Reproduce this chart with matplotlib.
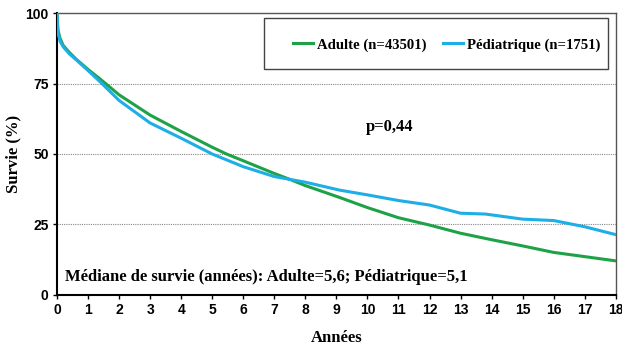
import numpy as np
import matplotlib.pyplot as plt
from matplotlib.patches import Rectangle

# courbes de survie
annees_adulte = [0, 0.03, 0.1, 0.2, 0.4, 0.63, 1.0, 1.4, 2.0, 3.0, 4.0, 5.0, 5.46, 6.0, 7.0, 7.5,
                 8.0, 9.1, 10.0, 11.0, 12.0, 13.0, 14.0, 15.0, 16.0, 17.0, 18.0]
survie_adulte = [100, 94, 91, 88.5, 86, 83.5, 80, 76.5, 71, 63.8, 58, 52.4, 50, 47.6, 43.1, 41,
                 38.8, 34.6, 31, 27.4, 24.8, 21.9, 19.6, 17.4, 15.1, 13.6, 12.1]

annees_pedia = [0, 0.03, 0.1, 0.2, 0.4, 0.63, 1.0, 1.4, 2.0, 3.0, 4.0, 5.0, 6.0, 7.0, 7.5, 8.0,
                9.1, 10.0, 11.0, 12.0, 13.0, 13.8, 15.0, 16.0, 17.0, 18.0]
survie_pedia = [100, 93, 90, 88, 85.5, 83.3, 79.6, 75.5, 69, 61, 55.6, 50, 45.5, 42, 41, 40,
                37.2, 35.5, 33.5, 31.9, 29, 28.7, 26.9, 26.4, 24.2, 21.4]

yticks = [0, 25, 50, 75, 100]
xticks = list(range(0, 19))

fig = plt.figure(figsize=(6.22, 3.47), dpi=100)
ax = fig.add_axes([0.0916, 0.1499, 0.8984, 0.8126])

vert = '#1ea247'
bleu = '#1eaee6'
l1, = ax.plot(annees_adulte, survie_adulte, color=vert, lw=2.2, label='Adulte (n=43501)', zorder=3)
l2, = ax.plot(annees_pedia, survie_pedia, color=bleu, lw=2.2, label='Pédiatrique (n=1751)', zorder=3)

ax.set_xlim(0, 18)
ax.set_ylim(0, 100)
ax.set_xticks(xticks)
ax.set_yticks(yticks)
for y in [25, 50, 75]:
    ax.axhline(y, color='#888888', lw=0.8, ls=(0, (1, 1)), zorder=1)

tick_font = dict(family='Liberation Sans', weight='bold', size=10)
ax.set_xticklabels([str(t) for t in xticks], **tick_font)
ax.set_yticklabels([str(t) for t in yticks], **tick_font)
ax.tick_params(direction='out', length=3, width=1, color='black', pad=3)

for s in ['left', 'bottom']:
    ax.spines[s].set_linewidth(1.5)
    ax.spines[s].set_color('black')
for s in ['top', 'right']:
    ax.spines[s].set_linewidth(1.0)
    ax.spines[s].set_color('#555555')

serif = dict(family='Liberation Serif', weight='bold')
ax.set_xlabel('Années', fontsize=12, labelpad=9, **serif)
ax.set_ylabel('Survie (%)', fontsize=12, **serif)
ax.yaxis.set_label_coords(-0.064, 0.5)

ax.text(10.7, 59.6, 'p=0,44', ha='center', va='center', fontsize=12, **serif)
ax.text(0.26, 6.5, 'Médiane de survie (années): Adulte=5,6; Pédiatrique=5,1',
        ha='left', va='center', fontsize=12, **serif)

# cadre de la légende
ax.add_patch(Rectangle((0.370, 0.801), 0.616, 0.181, transform=ax.transAxes,
                       fill=False, edgecolor='#444444', lw=1.0, zorder=4))
leg = ax.legend(handles=[l1, l2], loc='center left', bbox_to_anchor=(0.422, 0.887), ncol=2,
                frameon=False, borderpad=0, borderaxespad=0, handlelength=1.36,
                handletextpad=0.27, columnspacing=1.16,
                prop=dict(family='Liberation Serif', weight='bold', size=10.6))

fig.savefig('out.png', dpi=100)
